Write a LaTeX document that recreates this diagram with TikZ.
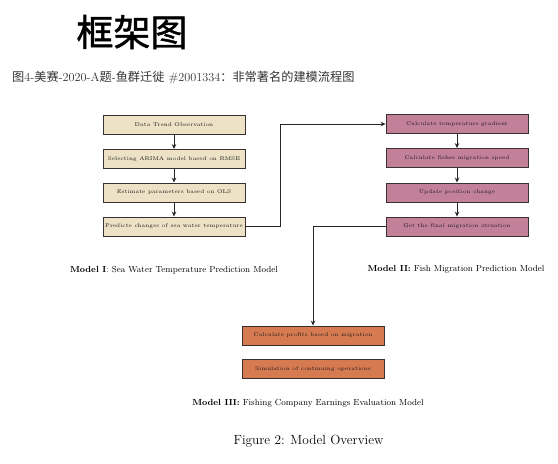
\documentclass[tikz,border=0pt]{standalone}
\usepackage{fontspec}
\newfontfamily\cjk{Noto Sans CJK SC}
\newfontfamily\cjktitle[FakeBold=1.2]{Noto Sans CJK SC}
\usetikzlibrary{arrows.meta}
\definecolor{beigebox}{HTML}{EDE2C5}
\definecolor{pinkbox}{HTML}{C38099}
\definecolor{orangebox}{HTML}{D67A52}
\definecolor{boxline}{HTML}{3A3030}
\tikzset{
  box/.style={draw=boxline, line width=0.9pt, minimum width=142pt, minimum height=19pt,
    inner sep=0pt, font=\fontsize{5.4}{6}\selectfont, text=black!90},
  beige/.style={box, fill=beigebox},
  pinkb/.style={box, fill=pinkbox},
  orangeb/.style={box, fill=orangebox},
  arr/.style={draw=black!85, line width=0.8pt, -{Stealth[length=5pt,width=4.5pt]}},
  captext/.style={font=\fontsize{8.8}{11}\selectfont, inner sep=0pt},
}
\begin{document}
\begin{tikzpicture}[x=1pt,y=-1pt]
\useasboundingbox (0,0) rectangle (558,464);
% titles
\node[inner sep=0pt, font=\cjktitle\fontsize{37}{40}\selectfont] (title) at (132,32) {框架图};
\node[inner sep=0pt, anchor=west, font=\fontsize{12.2}{14}\selectfont, text=black!80] (sub) at (12,78)
  {{\cjk 图}4-{\cjk 美赛}-2020-A{\cjk 题}-{\cjk 鱼群迁徙} \#2001334{\cjk ：非常著名的建模流程图}};
% Model I
\node[beige] (l1) at (174,124.5) {Data Trend Observation};
\node[beige] (l2) at (174,159) {Selecting ARIMA model based on RMSE};
\node[beige] (l3) at (174,192.5) {Estimate parameters based on OLS};
\node[beige] (l4) at (174,226.5) {Predicte changes of sea water temperature};
% Model II
\node[pinkb] (r1) at (457,124) {Calculate temperature gradient};
\node[pinkb] (r2) at (457,158) {Calculate fishes migration speed};
\node[pinkb] (r3) at (457,192.5) {Update position change};
\node[pinkb] (r4) at (457,226.5) {Get the final migration struation};
% Model III
\node[orangeb] (b1) at (313,335.5) {Calculate profits based on migration};
\node[orangeb] (b2) at (313,369) {Simulation of continuing operations};
% captions
\node[captext] (c1) at (174,270) {\textbf{Model I}: Sea Water Temperature Prediction Model};
\node[captext] (c2) at (456,269) {\textbf{Model II:} Fish Migration Prediction Model};
\node[captext] (c3) at (308,403) {\textbf{Model III:} Fishing Company Earnings Evaluation Model};
\node[inner sep=0pt, font=\fontsize{13.3}{15}\selectfont] (fig) at (308.5,441) {Figure 2: Model Overview};
% connectors
\draw[arr] (l1) -- (l2);
\draw[arr] (l2) -- (l3);
\draw[arr] (l3) -- (l4);
\draw[arr] (r1) -- (r2);
\draw[arr] (r2) -- (r3);
\draw[arr] (r3) -- (r4);
\coordinate (t1) at (280,124);
\draw[arr] (l4.east) -| (t1) -- (r1.west);
\draw[arr] (r4.west) -| (b1.north);
\end{tikzpicture}
\end{document}
